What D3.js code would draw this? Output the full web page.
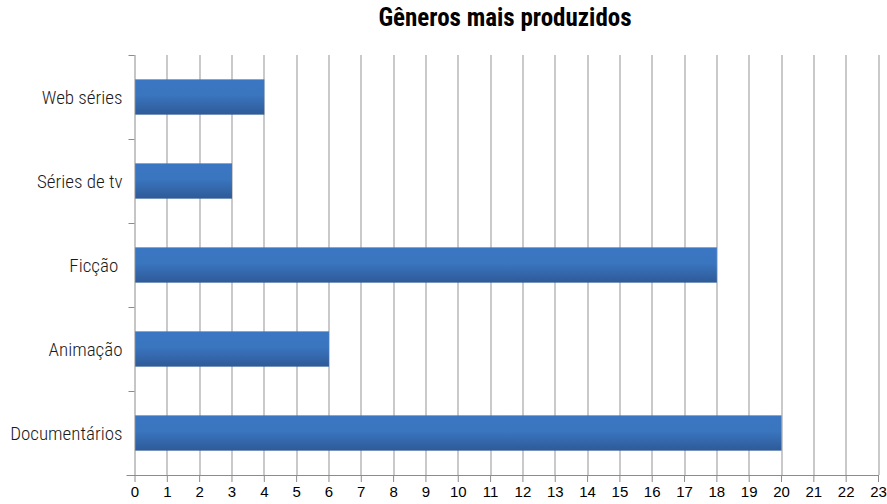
<!DOCTYPE html>
<html>
<head>
<meta charset="utf-8">
<script src="https://cdn.jsdelivr.net/npm/d3@7"></script>
<style>
  body { margin: 0; background: #fff; }
  svg { display: block; font-family: "Liberation Sans Narrow", "Arial Narrow", "Roboto Condensed", sans-serif; }
</style>
</head>
<body>
<svg id="chart" width="887" height="504"></svg>
<script>
const categories = ["Web séries", "Séries de tv", "Ficção ", "Animação", "Documentários"];
const values = [4, 3, 18, 6, 20];
const xTicks = d3.range(0, 24);

const svg = d3.select("#chart");
const margin = { top: 55, right: 9, bottom: 29, left: 134.5 };
const width = 887 - margin.left - margin.right;
const height = 504 - margin.top - margin.bottom;

// gradient for the bars
const grad = svg.append("defs").append("linearGradient")
    .attr("id", "barGrad")
    .attr("x1", 0).attr("y1", 0).attr("x2", 0).attr("y2", 1);
grad.append("stop").attr("offset", "0%").attr("stop-color", "#3a77c3");
grad.append("stop").attr("offset", "45%").attr("stop-color", "#3a75bf");
grad.append("stop").attr("offset", "100%").attr("stop-color", "#2e5a97");

const g = svg.append("g").attr("transform", `translate(${margin.left},${margin.top})`);

const x = d3.scaleLinear().domain([0, 23]).range([0, width]);
const y = d3.scaleBand().domain(categories).range([0, height]).paddingInner(0.58).paddingOuter(0.29);

// vertical gridlines
g.selectAll(".grid")
    .data(xTicks.slice(1))
    .enter()
    .append("line")
    .attr("class", "grid")
    .attr("x1", (d) => Math.round(x(d)) + 0.5)
    .attr("x2", (d) => Math.round(x(d)) + 0.5)
    .attr("y1", 0)
    .attr("y2", height)
    .attr("stroke", "#a6a6a6")
    .attr("stroke-width", 1.2);

// bars
g.selectAll(".bar")
    .data(values)
    .enter()
    .append("rect")
    .attr("class", "bar")
    .attr("x", x(0) + 0.5)
    .attr("y", (d, i) => y(categories[i]))
    .attr("width", (d) => x(d) - x(0))
    .attr("height", y.bandwidth())
    .attr("fill", "url(#barGrad)");

// x axis
const xAxis = g.append("g")
    .attr("transform", `translate(0,${height})`)
    .call(d3.axisBottom(x).tickValues(xTicks).tickSize(7).tickPadding(4));
xAxis.select(".domain").attr("stroke", "#8c8c8c").attr("d", `M-8,0.5H${width}`);
xAxis.selectAll(".tick line").attr("stroke", "#8c8c8c");
xAxis.selectAll("text")
    .attr("fill", "#000")
    .style("font-family", "'Liberation Sans', Arial, sans-serif")
    .style("font-size", "15px");

// y axis
const bounds = d3.range(0, categories.length + 1).map((i) => i * height / categories.length);
g.append("line")
    .attr("x1", 0.5).attr("x2", 0.5)
    .attr("y1", 0).attr("y2", height)
    .attr("stroke", "#8c8c8c");
g.selectAll(".ytick")
    .data(bounds)
    .enter()
    .append("line")
    .attr("class", "ytick")
    .attr("x1", -6).attr("x2", 0)
    .attr("y1", (d) => Math.round(d) + 0.5)
    .attr("y2", (d) => Math.round(d) + 0.5)
    .attr("stroke", "#8c8c8c");

g.selectAll(".ylabel")
    .data(categories)
    .enter()
    .append("text")
    .attr("class", "ylabel")
    .attr("x", -12)
    .attr("y", (d) => y(d) + y.bandwidth() / 2)
    .attr("dy", "0.35em")
    .attr("text-anchor", "end")
    .style("font-size", "19px")
    .style("font-weight", "300")
    .style("white-space", "pre")
    .attr("fill", "#1a1a1a")
    .text((d) => d);

// title
svg.append("text")
    .attr("x", 505)
    .attr("y", 26)
    .attr("text-anchor", "middle")
    .style("font-size", "25px")
    .style("font-weight", "bold")
    .text("Gêneros mais produzidos");
</script>
</body>
</html>
